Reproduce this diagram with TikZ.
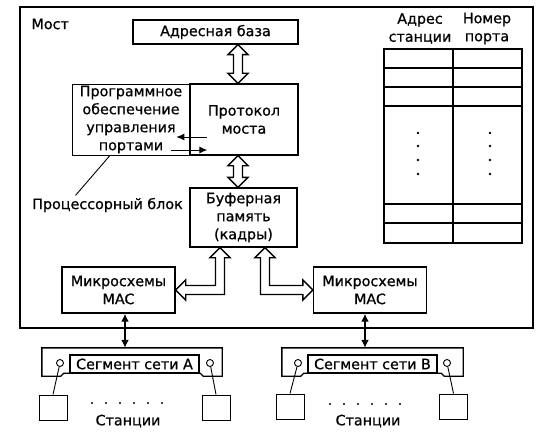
\documentclass[tikz,border=0pt]{standalone}
\usepackage{fontspec}
\setmainfont[FakeBold=0.8]{DejaVu Sans}
\usetikzlibrary{arrows.meta, calc, positioning}
\newcommand{\vhollow}[2]{%
  \draw[hollow] let \p1=(#1), \p2=(#2) in
    (\x1,\y1) -- ({\x1+10pt},{\y1-10pt}) -- ({\x1+4.5pt},{\y1-10pt}) -- ({\x1+4.5pt},{\y2+10pt})
    -- ({\x1+10pt},{\y2+10pt}) -- (\x1,\y2) -- ({\x1-10pt},{\y2+10pt}) -- ({\x1-4.5pt},{\y2+10pt})
    -- ({\x1-4.5pt},{\y1-10pt}) -- ({\x1-10pt},{\y1-10pt}) -- cycle;}
\newcommand{\lhollow}[2]{%
  \draw[hollow] let \p1=(#1), \p2=(#2), \n1={sign(\x2-\x1)} in
    (\x1,\y1) -- ({\x1+(\n1)*10pt},{\y1-10pt}) -- ({\x1+(\n1)*4.5pt},{\y1-10pt})
    -- ({\x1+(\n1)*4.5pt},{\y2+4.5pt}) -- ({\x2-(\n1)*10pt},{\y2+4.5pt})
    -- ({\x2-(\n1)*10pt},{\y2+10pt}) -- (\x2,\y2) -- ({\x2-(\n1)*10pt},{\y2-10pt})
    -- ({\x2-(\n1)*10pt},{\y2-4.5pt}) -- ({\x1-(\n1)*4.5pt},{\y2-4.5pt})
    -- ({\x1-(\n1)*4.5pt},{\y1-10pt}) -- ({\x1-(\n1)*10pt},{\y1-10pt}) -- cycle;}

\begin{document}
\begin{tikzpicture}[x=1pt, y=-1pt, font=\fontsize{14.3}{18}\selectfont,
    box/.style={draw, line width=1.4pt, align=center, inner sep=0pt},
    station/.style={draw, line width=1pt, minimum width=28pt, minimum height=25pt, inner sep=0pt},
    port/.style={draw, circle, line width=0.9pt, minimum size=7pt, inner sep=0pt, fill=white},
    link/.style={line width=1.8pt, {Latex[length=8pt,width=8pt]}-{Latex[length=8pt,width=8pt]}},
    thinarr/.style={line width=1pt, -{Latex[length=8pt,width=7pt]}},
    hollow/.style={line width=1.4pt, line join=miter, fill=white}]
    \useasboundingbox (0,0) rectangle (557,436);
    \draw[line width=1.4pt] (20,7) rectangle (533,328);
    \node[anchor=west] (bridge) at (28,24) {Мост};
    \node[box, minimum width=165pt, minimum height=24pt] (base) at (215.5,32) {Адресная база};
    \node[box, minimum width=108pt, minimum height=71pt] (proto) at (244,119.5) {Протокол\\моста};
    \node[box, line width=0.8pt, minimum width=118pt, minimum height=71pt] (soft) at (131,119.5) {Программное\\обеспечение\\управления\\портами};
    \node[box, minimum width=107pt, minimum height=59pt] (buf) at (243.5,217.5) {Буферная\\память\\(кадры)};
    \node[box, minimum width=113pt, minimum height=46pt] (macA) at (118.5,290) {Микросхемы\\MAC};
    \node[box, minimum width=113pt, minimum height=46pt] (macB) at (370,290) {Микросхемы\\MAC};
    \node (cpulbl) at (107.5,205) {Процессорный блок};
    \draw[line width=0.9pt] ($(cpulbl.north)+(-32,1)$) -- ($(soft.south)+(-21,0)$);
    \draw[thinarr] ($(proto.west)+(18,17.5)$) -- ($(proto.west)+(-13,17.5)$);
    \draw[thinarr] ($(proto.west)+(-18,30.5)$) -- ($(proto.west)+(18,30.5)$);
    \coordinate (ax) at (238,0);
    \coordinate (bl) at (220,0);
    \coordinate (br) at (265,0);
    \vhollow{ax |- base.south}{ax |- proto.north}
    \vhollow{ax |- proto.south}{ax |- buf.north}
    \lhollow{bl |- buf.south}{macA.east}
    \lhollow{br |- buf.south}{macB.west}
    \node[align=center] (hdraddr) at (420,28.5) {Адрес\\станции};
    \node[align=center] (hdrport) at (487,28.5) {Номер\\порта};
    \draw[line width=1.4pt] (384,49) rectangle (522,243);
    \draw[line width=1.4pt] (453,49) -- (453,243);
    \foreach \y in {68,87,106,204,223} \draw[line width=1.4pt] (384,\y) -- (522,\y);
    \foreach \y in {133,146,160,174} {\fill (418,\y) circle (1.3pt); \fill (490,\y) circle (1.3pt);}
    \node[minimum width=180pt, minimum height=28pt, inner sep=0pt] (segA) at (132,362) {};
    \draw[line width=1.4pt] (segA.south west) -- (segA.north west) -- (segA.north east) -- (segA.south east) -- ++(-19,0) -- ++(-3,-3) -- ($(segA.south west)+(22,-3)$) -- ++(-3,3) -- cycle;
    \node[box, line width=1.1pt, minimum width=129pt, minimum height=18pt] (labA) at (134.5,364) {Сегмент сети A};
    \node[port] (pA1) at (60,363) {};
    \node[port] (pA2) at (210,363) {};
    \node[station] (stA1) at (53,407.5) {};
    \node[station] (stA2) at (216,407.5) {};
    \draw[line width=0.9pt] (pA1) -- (stA1.north);
    \draw[line width=0.9pt] (pA2) -- (stA2.north);
    \foreach \i in {0,...,5} \fill (92+14*\i,403) circle (1.2pt);
    \node (stnA) at (128,421) {Станции};
    \node[minimum width=181pt, minimum height=28pt, inner sep=0pt] (segB) at (372.5,362) {};
    \draw[line width=1.4pt] (segB.south west) -- (segB.north west) -- (segB.north east) -- (segB.south east) -- ++(-19,0) -- ++(-3,-3) -- ($(segB.south west)+(22,-3)$) -- ++(-3,3) -- cycle;
    \node[box, line width=1.1pt, minimum width=129pt, minimum height=18pt] (labB) at (372.5,364) {Сегмент сети B};
    \node[port] (pB1) at (298,363) {};
    \node[port] (pB2) at (447,363) {};
    \node[station] (stB1) at (290,406.5) {};
    \node[station] (stB2) at (453.5,406.5) {};
    \draw[line width=0.9pt] (pB1) -- (stB1.north);
    \draw[line width=0.9pt] (pB2) -- (stB2.north);
    \foreach \i in {0,...,5} \fill (330+14*\i,404) circle (1.2pt);
    \node (stnB) at (368,421) {Станции};
    \coordinate (lA) at ($(macA.south)+(6.5,0)$);
    \coordinate (lB) at ($(macB.south)+(-5,0)$);
    \draw[link] (lA) -- (lA |- segA.north);
    \draw[link] (lB) -- (lB |- segB.north);
\end{tikzpicture}
\end{document}
